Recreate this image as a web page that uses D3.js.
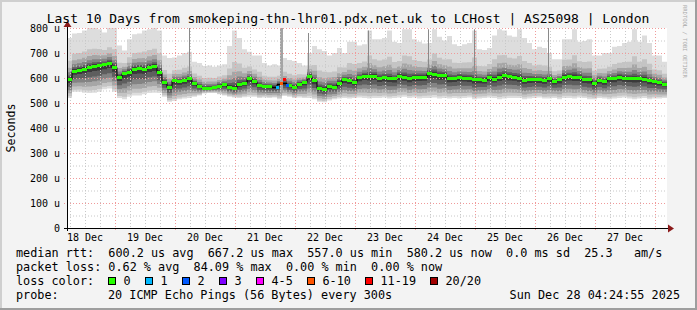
<!DOCTYPE html>
<html>
<head>
<meta charset="utf-8">
<script src="https://cdn.jsdelivr.net/npm/d3@7"></script>
<style>
  html, body { margin: 0; padding: 0; background: #fff; }
  svg { display: block; }
  text { font-family: 'DejaVu Sans Mono', monospace; fill: #000; white-space: pre; }
</style>
</head>
<body>
<svg id="svg" width="697" height="310"></svg>
<script>
const W = 697
const H = 310
const X0 = 67
const X1 = 667
const Y0 = 228
const Y1 = 28
const START = new Date(2025, 11, 18, 4, 48)
const HOUR = 3600e3
const STEP_H = 2

// median rtt (us), one value per 2 hours
const median = [
  595, 630, 634, 638, 645, 650, 651, 655, 660, 645, 605, 620, 625, 638, 640, 637, 645, 650, 625, 585, 565, 590, 587, 592, 598, 580, 568, 561, 561, 563,
  570, 575, 565, 561, 575, 581, 598, 588, 572, 568, 568, 565, 575, 580, 572, 565, 578, 584, 610, 590, 560, 557, 568, 566, 580, 595, 590, 584, 603, 610,
  608, 610, 600, 603, 600, 598, 610, 605, 599, 605, 605, 606, 620, 618, 612, 612, 599, 600, 605, 602, 600, 594, 594, 593, 604, 597, 606, 611, 608, 606,
  601, 593, 595, 596, 594, 592, 600, 588, 594, 606, 608, 606, 604, 595, 594, 580, 593, 587, 600, 599, 606, 601, 600, 599, 599, 597, 590, 588, 583, 578
]
// highest ping of each step (top of the smoke)
const smokeMax = [
  760, 778, 780, 790, 800, 800, 795, 782, 800, 800, 730, 710, 755, 775, 778, 790, 795, 800, 790, 690, 680, 682, 690, 700, 705, 665, 660, 648, 650, 645,
  650, 655, 728, 790, 760, 715, 705, 690, 690, 660, 650, 655, 650, 680, 672, 668, 660, 650, 700, 728, 715, 708, 690, 700, 720, 700, 745, 745, 730, 735,
  790, 755, 755, 760, 790, 745, 740, 795, 795, 755, 745, 738, 740, 795, 765, 750, 768, 735, 728, 735, 740, 790, 715, 712, 720, 770, 795, 790, 770, 765,
  795, 760, 740, 715, 725, 720, 700, 675, 675, 755, 755, 795, 745, 748, 755, 690, 690, 700, 700, 725, 728, 740, 745, 795, 745, 770, 740, 690, 690, 665
]
// lowest ping of each step (bottom of the smoke)
const smokeMin = [
  520, 545, 545, 541, 540, 541, 545, 555, 558, 545, 520, 515, 525, 530, 530, 535, 540, 541, 540, 525, 505, 508, 515, 518, 520, 525, 530, 538, 540, 540,
  535, 530, 525, 522, 520, 523, 525, 525, 520, 522, 520, 522, 515, 528, 525, 520, 522, 520, 520, 515, 505, 503, 510, 515, 518, 520, 518, 520, 522, 520,
  518, 520, 520, 522, 518, 520, 522, 525, 520, 522, 518, 520, 520, 522, 518, 520, 518, 520, 518, 520, 522, 515, 518, 520, 522, 520, 515, 518, 520, 520,
  520, 515, 518, 520, 522, 518, 518, 520, 515, 520, 520, 518, 522, 520, 515, 515, 520, 518, 515, 518, 520, 522, 518, 515, 518, 520, 515, 518, 518, 520
]
// single high outliers (hours after start, top value)
const spikeHours = [48.8, 96.4, 120.4, 144.4, 162.8, 192.4]
const spikeTops = [800, 780, 790, 795, 795, 800]
const barHours = [85.2]
const barTops = [800]

// packet loss samples
const lossHours = [83.6, 85.2, 86.4, 87.6]
const lossValues = [565, 580, 597, 573]
const lossBins = ['1', '6-10', '11-19', '2']

const lossLabels = ['0', '1', '2', '3', '4-5', '6-10', '11-19', '20/20']
const lossColors = ['#26ff00', '#00b8ff', '#0059ff', '#7e00ff', '#ff00ff', '#ff5500', '#ff0000', '#a10000']

const yTicks = [0, 100, 200, 300, 400, 500, 600, 700, 800]

const legendRows = [
  'median rtt:  600.2 us avg  667.2 us max  557.0 us min  580.2 us now  0.0 ms sd  25.3   am/s',
  'packet loss: 0.62 % avg  84.09 % max  0.00 % min  0.00 % now'
]

const svg = d3.select('#svg')

const x = d3.scaleTime()
  .domain([START, new Date(+START + 240 * HOUR)])
  .range([X0, X1])
const y = d3.scaleLinear().domain([0, 800]).range([Y0, Y1])
const atHour = h => new Date(+START + h * HOUR)

// canvas + frame
svg.append('rect').attr('width', W).attr('height', H).attr('fill', '#f3f3f3')
svg.append('rect').attr('x', 0).attr('y', 0).attr('width', W).attr('height', 2).attr('fill', '#cfcfcf')
svg.append('rect').attr('x', 0).attr('y', 0).attr('width', 2).attr('height', H).attr('fill', '#cfcfcf')
svg.append('rect').attr('x', W - 2).attr('y', 0).attr('width', 2).attr('height', H).attr('fill', '#9e9e9e')
svg.append('rect').attr('x', 0).attr('y', H - 2).attr('width', W).attr('height', 2).attr('fill', '#9e9e9e')

svg.append('rect')
  .attr('x', X0).attr('y', Y1)
  .attr('width', X1 - X0).attr('height', Y0 - Y1)
  .attr('fill', '#fff')

// smoke
const rows = median.map((m, i) => ({ t: atHour(i * STEP_H), m, hi: smokeMax[i], lo: smokeMin[i] }))
rows.push(Object.assign({}, rows[rows.length - 1], { t: atHour(median.length * STEP_H) }))

const levels = [
  { fu: 1, fl: 1, c: '#dddddd' },
  { fu: 0.45, fl: 0.9, c: '#c4c4c4' },
  { fu: 0.28, fl: 0.75, c: '#a6a6a6' },
  { fu: 0.17, fl: 0.58, c: '#838383' },
  { fu: 0.09, fl: 0.4, c: '#5e5e5e' },
  { fu: 0.04, fl: 0.2, c: '#3a3a3a' }
]
const gSmoke = svg.append('g')
levels.forEach(l => {
  const area = d3.area()
    .x(d => x(d.t))
    .y0(d => y(d.m - l.fl * (d.m - d.lo)))
    .y1(d => y(d.m + l.fu * (d.hi - d.m)))
    .curve(d3.curveStepAfter)
  gSmoke.append('path').attr('d', area(rows)).attr('fill', l.c)
})

spikeHours.forEach((h, k) => {
  const m = median[Math.floor(h / STEP_H)]
  gSmoke.append('rect')
    .attr('x', Math.round(x(atHour(h)))).attr('y', y(spikeTops[k]))
    .attr('width', 1).attr('height', y(m) - y(spikeTops[k]))
    .attr('fill', '#8a8a8a')
})
barHours.forEach((h, k) => {
  gSmoke.append('rect')
    .attr('x', Math.round(x(atHour(h)))).attr('y', y(barTops[k]))
    .attr('width', 3).attr('height', y(540) - y(barTops[k]))
    .attr('fill', '#a4a4a4')
})

// grid
const gGrid = svg.append('g')
const minorY = d3.range(50, 800, 100)
gGrid.selectAll('.hmin').data(minorY).join('line')
  .attr('x1', X0).attr('x2', X1)
  .attr('y1', d => y(d) + 0.5).attr('y2', d => y(d) + 0.5)
  .attr('stroke', '#c8c8c8').attr('stroke-dasharray', '1,2')
const hours6 = d3.timeHour.every(6).range(x.domain()[0], x.domain()[1]).filter(d => d.getHours() !== 0)
gGrid.selectAll('.vmin').data(hours6).join('line')
  .attr('x1', d => Math.round(x(d)) + 0.5).attr('x2', d => Math.round(x(d)) + 0.5)
  .attr('y1', Y1).attr('y2', Y0)
  .attr('stroke', '#c8c8c8').attr('stroke-dasharray', '1,2')
gGrid.selectAll('.hmaj').data(yTicks.slice(1)).join('line')
  .attr('x1', X0 - 3).attr('x2', X1)
  .attr('y1', d => y(d) + 0.5).attr('y2', d => y(d) + 0.5)
  .attr('stroke', '#f09a9a').attr('stroke-dasharray', '1,2')
const days = d3.timeDay.range(x.domain()[0], x.domain()[1])
gGrid.selectAll('.vmaj').data(days).join('line')
  .attr('x1', d => Math.round(x(d)) + 0.5).attr('x2', d => Math.round(x(d)) + 0.5)
  .attr('y1', Y1).attr('y2', Y0 + 3)
  .attr('stroke', '#f09a9a').attr('stroke-dasharray', '1,2')

// median line + loss colour
const medLine = d3.line().x(d => x(d.t)).y(d => Math.round(y(d.m)) + 0.5).curve(d3.curveStepAfter)
svg.append('path').attr('d', medLine(rows)).attr('fill', 'none').attr('stroke', '#000').attr('stroke-width', 1)

const hasLoss = i => lossHours.some(h => h >= i * STEP_H && h < (i + 1) * STEP_H)
svg.append('g').selectAll('line').data(rows.slice(0, -1).filter((d, i) => !hasLoss(i))).join('line')
  .attr('x1', d => x(d.t)).attr('x2', d => x(new Date(+d.t + STEP_H * HOUR)))
  .attr('y1', d => Math.round(y(d.m)) + 0.5).attr('y2', d => Math.round(y(d.m)) + 0.5)
  .attr('stroke', lossColors[0]).attr('stroke-width', 3)

svg.append('g').selectAll('rect').data(lossHours).join('rect')
  .attr('x', h => x(atHour(h))).attr('y', (h, k) => Math.round(y(lossValues[k])) - 1)
  .attr('width', 3).attr('height', 3)
  .attr('fill', (h, k) => lossColors[lossLabels.indexOf(lossBins[k])])

// axes
svg.append('line').attr('x1', X0 - 3).attr('x2', X1 + 4).attr('y1', Y0 + 0.5).attr('y2', Y0 + 0.5).attr('stroke', '#000')
svg.append('line').attr('x1', X0 + 0.5).attr('x2', X0 + 0.5).attr('y1', Y0 + 3).attr('y2', Y1 - 4).attr('stroke', '#000')
svg.append('path').attr('d', `M${X1 + 1},${Y0 - 3.5}L${X1 + 7},${Y0 + 0.5}L${X1 + 1},${Y0 + 4.5}Z`).attr('fill', '#8b1a1a')
svg.append('path').attr('d', `M${X0 - 3.5},${Y1 - 1}L${X0 + 0.5},${Y1 - 7}L${X0 + 4.5},${Y1 - 1}Z`).attr('fill', '#8b1a1a')

svg.append('g').selectAll('text').data(yTicks).join('text')
  .attr('x', 60).attr('y', d => y(d) + 4)
  .attr('text-anchor', 'end').attr('font-size', 10)
  .text(d => d === 0 ? '0' : d + ' u')

const noons = days.map(d => d3.timeHour.offset(d, -12)).concat([d3.timeHour.offset(days[days.length - 1], 12)])
svg.append('g').selectAll('text').data(noons.filter(d => x(d) > X0 && x(d) < X1)).join('text')
  .attr('x', d => x(d)).attr('y', 241)
  .attr('text-anchor', 'middle').attr('font-size', 10)
  .text(d3.timeFormat('%d %b'))

svg.append('text')
  .attr('transform', 'translate(15,128) rotate(-90)')
  .attr('text-anchor', 'middle').attr('font-size', 11.6)
  .text('Seconds')

svg.append('text')
  .attr('x', 348).attr('y', 22.5)
  .attr('text-anchor', 'middle').attr('font-size', 13)
  .text('Last 10 Days from smokeping-thn-lhr01.pdx.net.uk to LCHost | AS25098 | London')

svg.append('text')
  .attr('transform', 'translate(683,5) rotate(90)')
  .attr('font-size', 5.5).style('fill', '#a8a8a8')
  .text('RRDTOOL / TOBI OETIKER')

// legend
const gLeg = svg.append('g').attr('font-size', 11.8)
legendRows.forEach((s, i) => gLeg.append('text').attr('x', 16).attr('y', 257 + 14 * i).text(s))
gLeg.append('text').attr('x', 16).attr('y', 285).text('loss color:')
let bx = 108.5
lossLabels.forEach((s, i) => {
  gLeg.append('rect').attr('x', bx).attr('y', 277.5).attr('width', 7).attr('height', 7)
    .attr('fill', lossColors[i]).attr('stroke', '#000')
  gLeg.append('text').attr('x', bx + 15).attr('y', 285).text(s)
  bx += 30 + 7 * s.length
})
gLeg.append('text').attr('x', 16).attr('y', 299).text('probe:')
gLeg.append('text').attr('x', 108).attr('y', 299).text('20 ICMP Echo Pings (56 Bytes) every 300s')
gLeg.append('text').attr('x', 680).attr('y', 299).attr('text-anchor', 'end').text('Sun Dec 28 04:24:55 2025')
</script>
</body>
</html>
